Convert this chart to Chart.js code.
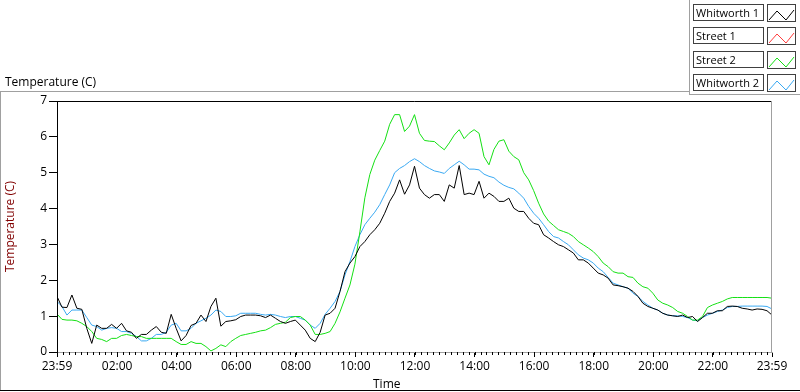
<!DOCTYPE html>
<html>
<head>
<meta charset="utf-8">
<script src="https://cdn.jsdelivr.net/npm/chart.js@4.4.0/dist/chart.umd.min.js"></script>
<style>
  body { margin: 0; background: #fff; font-family: 'Open Sans', sans-serif; }
  #wrap { position: relative; width: 800px; height: 392px; overflow: hidden; background: #fff; }
  #c { position: absolute; left: 0; top: 0; }
  .ln { position: absolute; }
  #title { position: absolute; left: 5px; top: 73px; font-size: 12px; color: #000; }
  #xtitle { position: absolute; left: 373px; top: 375px; font-size: 12px; color: #000; }
  .lab { position: absolute; left: 693px; width: 67px; height: 15px; border: 1px solid #404040;
         font-size: 11px; line-height: 15px; padding-left: 2px; box-sizing: content-box; white-space: nowrap; overflow: hidden; }
  .smp { position: absolute; left: 767px; width: 27px; height: 16px; border: 1px solid #404040; background: #fff; }
</style>
</head>
<body>
<div id="wrap">
  <canvas id="c" width="800" height="392"></canvas>
  <div class="ln" style="left:0;top:91px;width:689px;height:1px;background:#a0a0a0"></div>
  <div class="ln" style="left:0;top:91px;width:1px;height:300px;background:#a0a0a0"></div>
  <div class="ln" style="left:0;top:390px;width:800px;height:1px;background:#000"></div>
  <div class="ln" style="left:689px;top:0;width:1px;height:95px;background:#a0a0a0"></div>
  <div class="ln" style="left:689px;top:94px;width:111px;height:1px;background:#a0a0a0"></div>
  <div id="title">Temperature (C)</div>
  <div id="xtitle">Time</div>
  <div id="legend"></div>
</div>
<script>
// minutes since 23:59, sampled every 10 minutes
const times = [0,10,20,30,40,50,60,70,80,90,100,110,120,130,140,150,160,170,180,190,
  200,210,220,230,240,250,260,270,280,290,300,310,320,330,340,350,360,370,380,390,
  400,410,420,430,440,450,460,470,480,490,500,510,520,530,540,550,560,570,580,590,
  600,610,620,630,640,650,660,670,680,690,700,710,720,730,740,750,760,770,780,790,
  800,810,820,830,840,850,860,870,880,890,900,910,920,930,940,950,960,970,980,990,
  1000,1010,1020,1030,1040,1050,1060,1070,1080,1090,1100,1110,1120,1130,1140,1150,1160,1170,1180,1190,
  1200,1210,1220,1230,1240,1250,1260,1270,1280,1290,1300,1310,1320,1330,1340,1350,1360,1370,1380,1390,
  1400,1410,1420,1430,1440];

const whitworth1 = [1.55,1.25,1.24,1.59,1.22,1.19,0.66,0.24,0.75,0.66,
  0.66,0.77,0.66,0.80,0.59,0.55,0.38,0.49,0.49,0.61,
  0.71,0.55,0.52,1.05,0.66,0.31,0.46,0.74,0.80,1.03,
  0.85,1.27,1.50,0.72,0.85,0.87,0.90,0.99,1.03,1.03,
  1.03,1.01,0.96,1.03,0.94,0.85,0.80,0.85,0.89,0.75,
  0.61,0.38,0.29,0.55,1.03,1.08,1.22,1.69,2.24,2.48,
  2.66,2.94,3.08,3.27,3.41,3.59,3.87,4.20,4.43,4.80,
  4.40,4.66,5.18,4.57,4.39,4.29,4.39,4.39,4.20,4.66,
  4.57,5.20,4.39,4.43,4.39,4.76,4.29,4.43,4.34,4.20,
  4.20,4.29,4.01,3.92,3.92,3.73,3.59,3.55,3.27,3.18,
  3.08,2.99,2.94,2.85,2.76,2.57,2.57,2.48,2.34,2.20,
  2.15,2.06,1.87,1.85,1.82,1.78,1.69,1.55,1.36,1.27,
  1.22,1.17,1.08,1.03,1.01,0.99,1.03,0.96,0.99,0.85,
  0.96,1.08,1.08,1.15,1.15,1.27,1.28,1.27,1.22,1.20,
  1.17,1.20,1.19,1.15,1.03];

const street1 = [];

const street2 = [1.06,0.91,0.89,0.89,0.87,0.80,0.71,0.57,0.38,0.35,
  0.29,0.38,0.38,0.46,0.49,0.46,0.43,0.43,0.38,0.38,
  0.38,0.38,0.38,0.38,0.29,0.21,0.21,0.29,0.24,0.24,
  0.15,0.03,0.10,0.20,0.15,0.29,0.38,0.46,0.49,0.52,
  0.55,0.59,0.61,0.68,0.77,0.80,0.83,0.96,0.99,0.99,
  0.89,0.75,0.49,0.49,0.52,0.57,0.80,1.12,1.50,1.87,
  2.45,3.35,4.30,4.95,5.35,5.62,5.88,6.35,6.62,6.62,
  6.15,6.30,6.62,6.10,5.90,5.88,5.87,5.75,5.64,5.83,
  6.05,6.20,5.95,6.10,6.20,6.10,5.45,5.22,5.65,5.88,
  5.92,5.60,5.45,5.36,5.00,4.80,4.50,4.15,3.85,3.65,
  3.53,3.41,3.36,3.31,3.22,3.08,2.99,2.90,2.80,2.66,
  2.48,2.38,2.24,2.20,2.20,2.10,2.08,1.92,1.82,1.78,
  1.64,1.45,1.36,1.31,1.24,1.13,1.08,0.99,0.89,0.89,
  0.99,1.24,1.31,1.36,1.41,1.48,1.52,1.52,1.52,1.52,
  1.52,1.52,1.52,1.52,1.50];

const whitworth2 = [1.41,1.27,1.03,1.17,1.17,1.17,0.96,0.75,0.71,0.61,
  0.66,0.68,0.66,0.57,0.57,0.52,0.43,0.31,0.31,0.38,
  0.49,0.49,0.55,0.75,0.80,0.59,0.59,0.66,0.80,0.87,
  0.94,1.03,1.17,1.13,0.99,0.99,1.01,1.08,1.08,1.08,
  1.08,1.05,1.03,1.05,1.03,0.99,0.96,0.99,0.99,0.94,
  0.89,0.75,0.66,0.80,1.05,1.22,1.41,1.69,2.15,2.52,
  2.94,3.27,3.55,3.73,3.90,4.11,4.39,4.66,5.00,5.12,
  5.20,5.31,5.39,5.31,5.20,5.12,5.05,5.02,4.98,5.12,
  5.22,5.32,5.22,5.10,5.10,5.08,4.96,4.90,4.86,4.74,
  4.65,4.59,4.55,4.43,4.29,4.06,3.87,3.73,3.55,3.36,
  3.22,3.18,3.08,2.99,2.85,2.71,2.62,2.57,2.48,2.34,
  2.24,2.08,1.92,1.87,1.82,1.78,1.64,1.55,1.41,1.31,
  1.22,1.17,1.08,1.03,1.01,1.01,0.99,0.96,0.89,0.87,
  0.96,1.03,1.08,1.13,1.17,1.24,1.27,1.27,1.28,1.28,
  1.28,1.28,1.28,1.27,1.20];

const tickMinutes = [0,121,241,361,481,601,721,841,961,1081,1201,1321,1440];
const tickLabels = ['23:59','02:00','04:00','06:00','08:00','10:00','12:00','14:00','16:00','18:00','20:00','22:00','23:59'];

const seriesNames = ['Whitworth 1','Street 1','Street 2','Whitworth 2'];
const seriesColors = ['#000000','#ff3c3c','#14e014','#3aa9f2'];
const seriesValues = [whitworth1, street1, street2, whitworth2];

// legend, LabVIEW style: name box + little plot sample
const legend = document.getElementById('legend');
seriesNames.forEach((name, i) => {
  const top = 4 + Math.round(i * 23.3);
  legend.insertAdjacentHTML('beforeend',
    '<div class="lab" style="top:' + top + 'px">' + name + '</div>' +
    '<div class="smp" style="top:' + top + 'px"><svg width="27" height="16">' +
    '<polyline points="1,14 9,5 18,14 26,4" fill="none" stroke="' + seriesColors[i] + '" stroke-width="1"/></svg></div>');
});

const frame = {
  id: 'frame',
  afterDraw(chart) {
    const { ctx, chartArea: a, scales: { x } } = chart;
    ctx.save();
    ctx.lineWidth = 1;
    ctx.strokeStyle = '#000';
    ctx.beginPath();
    ctx.moveTo(a.left + 0.5, a.bottom);
    ctx.lineTo(a.left + 0.5, a.top + 0.5);
    ctx.lineTo(a.right, a.top + 0.5);
    ctx.stroke();
    ctx.strokeStyle = '#a0a0a0';
    ctx.beginPath();
    ctx.moveTo(a.right - 0.5, a.top);
    ctx.lineTo(a.right - 0.5, a.bottom);
    ctx.stroke();
    // minor ticks every 12 minutes
    ctx.strokeStyle = '#000';
    ctx.beginPath();
    for (let m = 1; m < 1440; m += 12) {
      const px = Math.round(x.getPixelForValue(m)) + 0.5;
      ctx.moveTo(px, a.bottom);
      ctx.lineTo(px, a.bottom + 3);
    }
    ctx.stroke();
    ctx.restore();
  }
};

new Chart(document.getElementById('c'), {
  type: 'line',
  data: {
    datasets: seriesNames.map((name, i) => ({
      label: name,
      data: seriesValues[i].map((v, j) => ({ x: times[j], y: v })),
      borderColor: seriesColors[i],
      borderWidth: 1,
      pointRadius: 0,
      tension: 0,
      fill: false
    }))
  },
  options: {
    responsive: false,
    animation: false,
    devicePixelRatio: 1,
    layout: { padding: { top: 101, right: 28, left: 0, bottom: 0 } },
    plugins: { legend: { display: false }, tooltip: { enabled: false } },
    scales: {
      x: {
        type: 'linear',
        min: 0,
        max: 1440,
        afterBuildTicks: s => { s.ticks = tickMinutes.map(v => ({ value: v })); },
        afterFit: s => { s.height = 40; },
        ticks: {
          autoSkip: false,
          maxRotation: 0,
          padding: 2,
          color: '#000',
          font: { family: 'Open Sans', size: 12 },
          callback: (v, i) => tickLabels[i]
        },
        grid: { drawOnChartArea: false, tickLength: 5, color: '#000' },
        border: { display: true, color: '#a0a0a0' }
      },
      y: {
        min: 0,
        max: 7,
        afterFit: s => { s.width = 57; },
        ticks: { stepSize: 1, color: '#000', padding: 2, font: { family: 'Open Sans', size: 12 } },
        grid: { drawOnChartArea: false, tickLength: 8, color: '#000' },
        border: { display: true, color: '#000' },
        title: {
          display: true,
          text: 'Temperature (C)',
          color: '#800000',
          font: { family: 'Open Sans', size: 12 },
          padding: { top: 3, bottom: 0 }
        }
      }
    }
  },
  plugins: [frame]
});
</script>
</body>
</html>
